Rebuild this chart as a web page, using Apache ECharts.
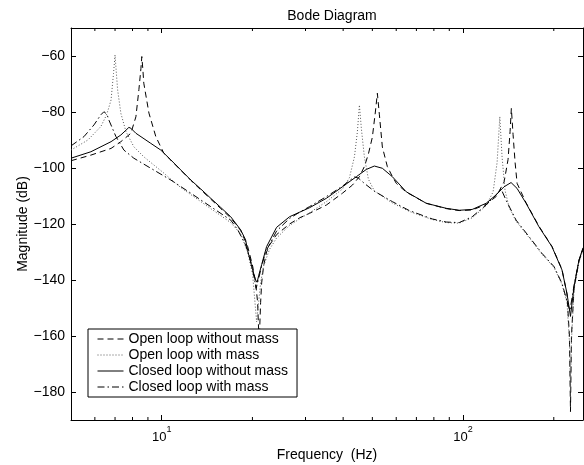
<!DOCTYPE html>
<html><head><meta charset="utf-8">
<script src="https://cdn.jsdelivr.net/npm/echarts@6/dist/echarts.min.js"></script>
<style>html,body{margin:0;padding:0;background:#fff}#c{width:584px;height:465px}</style>
</head><body><div id="c"></div>
<script>
const FONT = '"Liberation Sans", Arial, Helvetica, sans-serif';
const seriesNames = ['Open loop without mass', 'Open loop with mass', 'Closed loop without mass', 'Closed loop with mass'];

// Open loop without mass (dashed)
const olNoMassFreq = [5.00,5.82,6.79,7.32,7.90,8.21,8.40,8.53,8.59,8.66,8.72,9.07,9.56,10.16,10.72,11.57,12.49,13.48,14.54,15.70,16.94,18.28,19.28,20.03,20.49,20.81,21.05,21.29,21.46,21.78,22.28,22.80,24.05,26.56,28.66,30.93,35.22,39.79,42.94,45.29,47.04,48.51,50.0,51.16,51.95,52.76,53.97,56.07,58.24,60.05,64.79,75.47,87.90,97.07,107.2,119.3,128.7,136.8,141.0,143.2,144.6,146.5,148.8,151.1,161.8,178.6,197.2,212.9,221.2,225.4,227.2,228.9,233.4,242.4,250];
const olNoMassDb = [-97.4,-95.4,-93.0,-90.6,-87.6,-81.7,-72,-64.5,-60.2,-65,-69.7,-80.4,-88.8,-94.7,-97.2,-100.8,-104.4,-107.8,-111.1,-114.5,-117.8,-122.3,-128,-135,-141,-148,-163,-148,-141,-135,-130,-127.5,-123.8,-120,-117.8,-116.2,-113.2,-109,-106.1,-103.1,-99.5,-95,-89,-80,-73.3,-81,-92.5,-99.5,-103,-105.5,-108.6,-112.6,-114.5,-115.2,-115,-113,-110.2,-105,-97,-87,-78.7,-88,-98,-105.5,-112.4,-120.8,-128,-136.2,-145,-160,-187,-160,-143,-133.2,-128.8];

// Open loop with mass (dotted)
const olMassFreq = [5.00,5.69,6.28,6.53,6.63,6.79,6.92,7.00,7.07,7.14,7.32,7.61,8.08,8.72,9.41,10.16,10.72,11.57,12.49,13.48,14.54,15.70,16.94,18.28,19.28,20.03,20.65,21.29,21.78,22.80,24.05,26.56,28.66,30.93,35.22,39.79,41.96,43.60,44.60,45.29,45.98,47.04,48.51,50.77,58.24,66.29,79.01,87.90,97.07,107.2,119.3,125.8,129.7,132.4,134.7,137.8,142.1,149.9,165.5,182.8,200.3,212.9,221.2,225.4,227.2,228.9,233.4,242.4,250];
const olMassDb = [-93.6,-90,-85.2,-81.5,-79.5,-75.7,-66.2,-59.6,-66,-72.1,-80.5,-87,-92.4,-96,-98.9,-101.8,-104,-107,-109.5,-112,-114.5,-117,-119.5,-123.5,-130,-138,-155,-141,-135,-129,-125,-120.5,-118.2,-116,-112,-107.5,-103.5,-96,-87,-77.5,-86,-96,-104,-108.2,-112.5,-115.5,-118.4,-119.5,-119.7,-117.8,-113.5,-108.5,-98,-81.7,-96,-108,-114,-119,-124.8,-130.8,-135.5,-141.5,-148,-162,-180,-162,-143.5,-133.5,-129.5];

// Closed loop without mass (solid)
const clNoMassFreq = [5.00,5.82,6.79,7.32,7.61,7.78,7.90,8.21,9.20,9.93,10.72,11.57,12.49,13.48,14.54,15.70,16.94,18.28,18.99,19.28,20.03,20.49,20.73,20.97,21.46,22.28,24.05,26.56,28.66,30.93,35.22,39.79,44.26,47.76,50.77,53.97,58.24,64.79,75.47,87.90,97.07,107.2,119.3,128.7,136.8,144.3,151.1,161.8,178.6,197.2,212.9,221.2,227.2,233.4,242.4,250];
const clNoMassDb = [-96.5,-94.2,-90.6,-88.2,-86.5,-85.5,-85.8,-87.6,-91.2,-93.6,-97.1,-100.7,-104.3,-107.5,-110.8,-114.1,-117.4,-122.1,-125.7,-129.5,-136.4,-140,-140.8,-138.5,-134.5,-128.1,-121.2,-117.4,-115.8,-114.2,-110.8,-106.7,-103.1,-100.5,-99.3,-100.1,-103.1,-108.5,-112.6,-114.4,-115.1,-114.8,-112.6,-109.6,-106.7,-105.2,-107.3,-112.6,-121,-128.1,-136.4,-144.8,-153,-142.4,-132.9,-128.5];

// Closed loop with mass (dash-dot)
const clMassFreq = [5.00,5.52,5.96,6.28,6.43,6.58,6.68,7.05,7.49,8.08,9.20,10.72,12.49,14.54,16.94,17.86,18.99,19.72,20.34,20.57,20.97,21.46,22.11,24.05,26.56,28.66,30.93,35.22,39.79,41.96,43.60,44.94,47.04,50.77,58.24,66.29,79.01,87.90,97.07,107.2,119.3,128.7,133.7,138.9,149.9,165.5,182.8,200.3,212.9,221.2,226.2,233.4,242.4,250];
const clMassDb = [-92.1,-88.8,-84.6,-81,-79.9,-80.8,-82.9,-88.8,-93.6,-96.5,-100.1,-104.3,-109,-113.8,-118.6,-122,-127.5,-133,-140,-143,-139.5,-135,-130,-122.5,-118,-115.8,-113.8,-110.2,-106.5,-104.5,-103.2,-103.6,-105.5,-108.3,-112,-115.2,-118.2,-119.3,-119.5,-117.4,-113.2,-109.6,-107.5,-111.5,-118.6,-124.5,-130.5,-135.2,-141.2,-147.5,-151,-142,-133,-129];

const xMinorTicks = [6,7,8,9,20,30,40,50,60,70,80,90,200];
const yTicks = [-180,-160,-140,-120,-100,-80,-60];
const xMin = 5, xMax = 250, yMin = -190, yMax = -50;

const zip = (f, d) => f.map((v, i) => [v, d[i]]);
const styles = [
  {color:'#000', width:1, type:[6,4]},
  {color:'#555', width:1, type:[1,2]},
  {color:'#000', width:1, type:'solid'},
  {color:'#000', width:1, type:[7,3,1.5,3]}
];
const datas = [zip(olNoMassFreq, olNoMassDb), zip(olMassFreq, olMassDb), zip(clNoMassFreq, clNoMassDb), zip(clMassFreq, clMassDb)];

const axisLineStyle = {lineStyle:{color:'#000', width:1}};
function xAxisCfg(pos, labels) {
  return {
    type:'log', logBase:10, min:xMin, max:xMax, position:pos, gridIndex:0,
    axisLine:Object.assign({show:true}, axisLineStyle),
    axisTick:{show:true, inside:true, length:5, lineStyle:{color:'#000', width:1}},
    splitLine:{show:false}, minorTick:{show:false},
    axisLabel:{show:labels, showMinLabel:false, showMaxLabel:false, margin:5, color:'#000',
      formatter: v => '{b|10}{s|' + Math.round(Math.log10(v)) + '}',
      rich:{b:{fontSize:13, fontFamily:FONT, color:'#000', padding:[6,0,0,0], verticalAlign:'bottom'},
            s:{fontSize:9, fontFamily:FONT, color:'#000', verticalAlign:'top'}}},
    name: labels ? 'Frequency  (Hz)' : '', nameLocation:'middle', nameGap:28, nameMoveOverlap:false,
    nameTextStyle:{fontSize:14, fontFamily:FONT, color:'#000'}
  };
}
function yAxisCfg(pos, labels) {
  return {
    type:'value', min:yMin, max:yMax, position:pos, gridIndex:0,
    axisLine:Object.assign({show:true}, axisLineStyle),
    axisTick:{show:true, inside:true, length:5, customValues:yTicks, lineStyle:{color:'#000', width:1}},
    splitLine:{show:false},
    axisLabel:{show:labels, customValues:yTicks, margin:6, color:'#000', fontSize:14, fontFamily:FONT,
      formatter: v => (v < 0 ? '\u2212' : '') + Math.abs(v)},
    name: labels ? 'Magnitude (dB)' : '', nameLocation:'middle', nameGap:41, nameMoveOverlap:false,
    nameTextStyle:{fontSize:14, fontFamily:FONT, color:'#000'}
  };
}

const series = seriesNames.map((n, i) => ({
  name:n, type:'line', data:datas[i], symbol:'none', showSymbol:false, smooth:false,
  lineStyle:styles[i], itemStyle:{color:styles[i].color}, xAxisIndex:0, yAxisIndex:0,
  z:2 + i, animation:false, emphasis:{disabled:true}
}));
series.push({
  name:'minorTicks', type:'custom', xAxisIndex:0, yAxisIndex:0, silent:true, clip:false, animation:false,
  data:xMinorTicks.map(f => [f, yMin]), encode:{x:0, y:1},
  renderItem:(params, api) => {
    const f = api.value(0);
    const b = api.coord([f, yMin]);
    const t = api.coord([f, yMax]);
    const st = {stroke:'#000', lineWidth:1};
    return {type:'group', children:[
      {type:'line', shape:{x1:b[0], y1:b[1], x2:b[0], y2:b[1]-3}, style:st},
      {type:'line', shape:{x1:t[0], y1:t[1], x2:t[0], y2:t[1]+3}, style:st}
    ]};
  }
});

const chart = echarts.init(document.getElementById('c'), null, {renderer:'canvas'});
chart.setOption({
  animation:false,
  backgroundColor:'#fff',
  title:{text:'Bode Diagram', left:327, top:4, textAlign:'center',
    textStyle:{fontSize:14, fontWeight:'normal', fontFamily:FONT, color:'#000'}},
  grid:{left:71, right:1, top:28, bottom:45, containLabel:false, outerBoundsMode:'none'},
  xAxis:[xAxisCfg('bottom', true), xAxisCfg('top', false)],
  yAxis:[yAxisCfg('left', true), yAxisCfg('right', false)],
  legend:{data:seriesNames, orient:'vertical', left:88, top:329, padding:[2,9,2,9], itemGap:0,
    itemWidth:26, itemHeight:10, backgroundColor:'#fff', borderColor:'#000', borderWidth:1, borderRadius:0,
    selectedMode:false, itemStyle:{color:'rgba(0,0,0,0)', borderColor:'rgba(0,0,0,0)', borderWidth:0},
    lineStyle:{width:1},
    textStyle:{fontSize:14, lineHeight:16, color:'#000', fontFamily:FONT}, z:10},
  series:series
});
</script></body></html>
